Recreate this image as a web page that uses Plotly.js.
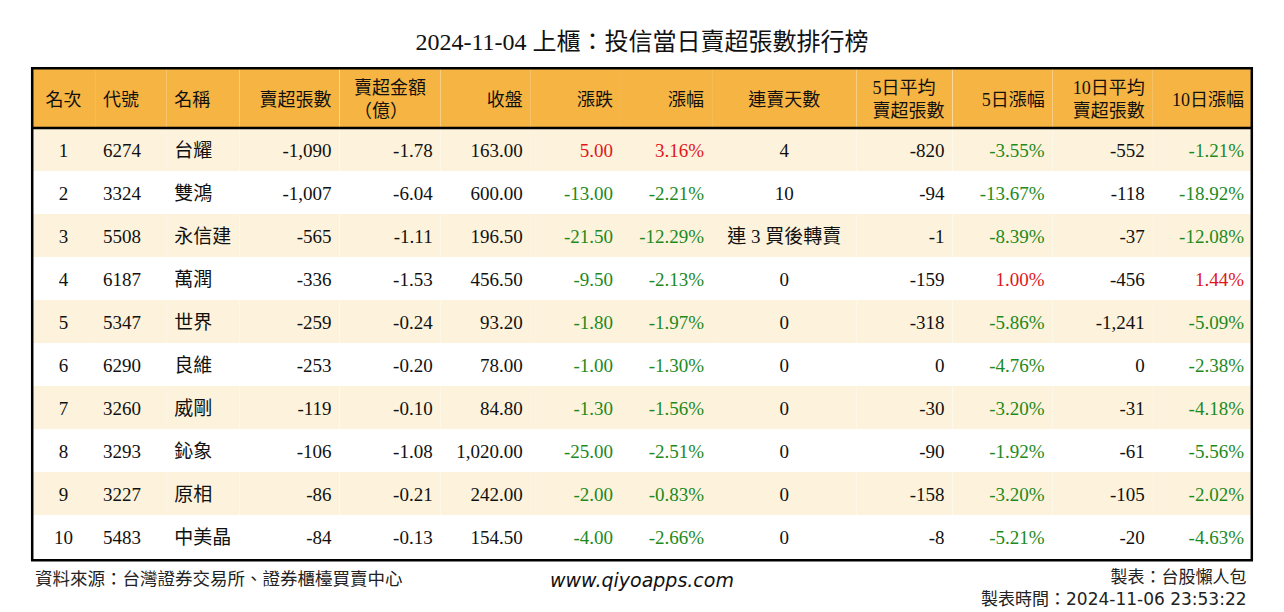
<!DOCTYPE html>
<html>
<head>
<meta charset="utf-8">
<script src="https://cdn.plot.ly/plotly-3.0.1.min.js"></script>
<style>
  html, body { margin: 0; padding: 0; background: #fff; }
  #chart { width: 1284px; height: 612px; }
</style>
</head>
<body>
<div id="chart"></div>
<script>
/* 2024-11-04 上櫃 投信當日賣超張數排行榜 */

const headers = ['名次', '代號', '名稱', '賣超張數', '賣超金額<br>（億）', '收盤', '漲跌', '漲幅',
  '連賣天數', '5日平均<br>賣超張數', '5日漲幅', '10日平均<br>賣超張數', '10日漲幅'];

const ranks = [1, 2, 3, 4, 5, 6, 7, 8, 9, 10];
const codes = ['6274', '3324', '5508', '6187', '5347', '6290', '3260', '3293', '3227', '5483'];
const names = ['台耀', '雙鴻', '永信建', '萬潤', '世界', '良維', '威剛', '鈊象', '原相', '中美晶'];
const sellVol = [-1090, -1007, -565, -336, -259, -253, -119, -106, -86, -84];
const sellAmt = [-1.78, -6.04, -1.11, -1.53, -0.24, -0.20, -0.10, -1.08, -0.21, -0.13];
const closes = [163.00, 600.00, 196.50, 456.50, 93.20, 78.00, 84.80, 1020.00, 242.00, 154.50];
const changes = [5.00, -13.00, -21.50, -9.50, -1.80, -1.00, -1.30, -25.00, -2.00, -4.00];
const pcts = [3.16, -2.21, -12.29, -2.13, -1.97, -1.30, -1.56, -2.51, -0.83, -2.66];
const sellDays = ['4', '10', '連 3 買後轉賣', '0', '0', '0', '0', '0', '0', '0'];
const avg5 = [-820, -94, -1, -159, -318, 0, -30, -90, -158, -8];
const pct5 = [-3.55, -13.67, -8.39, 1.00, -5.86, -4.76, -3.20, -1.92, -3.20, -5.21];
const avg10 = [-552, -118, -37, -456, -1241, 0, -31, -61, -105, -20];
const pct10 = [-1.21, -18.92, -12.08, 1.44, -5.09, -2.38, -4.18, -5.56, -2.02, -4.63];

const COLORS = {
  header: '#F6B443',
  band: '#FDF3DC',
  white: '#FFFFFF',
  text: '#111111',
  up: '#E0161B',
  down: '#1D8A1D',
};

const W = 1284, H = 612;
const FONT = '"Liberation Serif", "Times New Roman", "Noto Sans CJK TC", serif';
const CJK = '"Noto Sans CJK TC", "Noto Sans CJK SC", sans-serif';

const fmtInt = v => v.toLocaleString('en-US');
const fmt2 = v => v.toLocaleString('en-US', { minimumFractionDigits: 2, maximumFractionDigits: 2 });
const fmtPct = v => fmt2(v) + '%';
const signColor = v => v > 0 ? COLORS.up : (v < 0 ? COLORS.down : COLORS.text);
const plain = arr => arr.map(() => COLORS.text);

const columns = [
  ranks.map(String),
  codes,
  names,
  sellVol.map(fmtInt),
  sellAmt.map(fmt2),
  closes.map(fmt2),
  changes.map(fmt2),
  pcts.map(fmtPct),
  sellDays,
  avg5.map(fmtInt),
  pct5.map(fmtPct),
  avg10.map(fmtInt),
  pct10.map(fmtPct),
];

const fontColors = [
  plain(ranks), plain(ranks), plain(ranks), plain(ranks), plain(ranks), plain(ranks),
  changes.map(signColor), pcts.map(signColor),
  plain(ranks), plain(ranks), pct5.map(signColor), plain(ranks), pct10.map(signColor),
];

const rowFill = ranks.map((r, i) => i % 2 === 0 ? COLORS.band : COLORS.white);

const px = v => v / W;
const py = v => 1 - v / H;

const table = {
  type: 'table',
  domain: { x: [px(32), px(1252)], y: [py(561), py(69)] },
  columnwidth: [63, 71, 73, 100, 101, 90, 90, 91, 144, 96, 100, 100, 99],
  header: {
    values: headers,
    align: ['center', 'left', 'left', 'right', 'center', 'right', 'right', 'right',
      'center', 'right', 'right', 'right', 'right'],
    fill: { color: COLORS.header },
    line: { width: 0, color: COLORS.header },
    font: { family: FONT, size: 18, color: COLORS.text },
    height: 59,
  },
  cells: {
    values: columns,
    align: ['center', 'left', 'left', 'right', 'right', 'right', 'right', 'right',
      'center', 'right', 'right', 'right', 'right'],
    fill: { color: [rowFill] },
    line: { width: 0, color: COLORS.white },
    font: { family: FONT, size: 19, color: fontColors },
    height: 43,
  },
};

const layout = {
  width: W,
  height: H,
  margin: { t: 0, r: 0, b: 0, l: 0 },
  paper_bgcolor: '#fff',
  title: {
    text: '2024-11-04 上櫃：投信當日賣超張數排行榜',
    font: { family: FONT, size: 24, color: COLORS.text },
    x: 0.5, xanchor: 'center',
    y: py(42), yanchor: 'middle',
  },
  shapes: [
    { type: 'rect', xref: 'paper', yref: 'paper', x0: px(32.2), x1: px(1251.8), y0: py(560.2), y1: py(68.2),
      line: { color: '#000', width: 2.5 }, layer: 'above' },
    { type: 'line', xref: 'paper', yref: 'paper', x0: px(32), x1: px(1252), y0: py(128), y1: py(128),
      line: { color: '#000', width: 2.5 }, layer: 'above' },
  ],
  annotations: [
    { text: '資料來源：台灣證券交易所、證券櫃檯買賣中心', xref: 'paper', yref: 'paper',
      x: px(33), y: py(577), xanchor: 'left', yanchor: 'middle', showarrow: false,
      font: { family: CJK, size: 17.5, color: '#222' } },
    { text: '<i>www.qiyoapps.com</i>', xref: 'paper', yref: 'paper',
      x: px(642), y: py(580), xanchor: 'center', yanchor: 'middle', showarrow: false,
      font: { family: '"DejaVu Sans", Verdana, sans-serif', size: 19, color: '#111' } },
    { text: '製表：台股懶人包<br>製表時間：2024-11-06 23:53:22', xref: 'paper', yref: 'paper',
      x: px(1249), y: py(588), xanchor: 'right', yanchor: 'middle', align: 'right', showarrow: false,
      font: { family: '"DejaVu Sans", "Noto Sans CJK TC", sans-serif', size: 17, color: '#222' } },
  ],
};

// plotly tables put text at the top of each cell; centre it vertically like the source image
function centerCellText(gd) {
  gd.querySelectorAll('.column-cell').forEach(cell => {
    const rect = cell.querySelector('.cell-rect');
    const holder = cell.querySelector('.cell-text-holder');
    if (!rect || !holder) return;
    const r = rect.getBoundingClientRect();
    const t = holder.getBoundingClientRect();
    if (!t.height || !r.height) return;
    const dy = (r.top + r.height / 2) - (t.top + t.height / 2) + 1;
    holder.setAttribute('transform', 'translate(0,' + dy.toFixed(1) + ') ' + (holder.getAttribute('transform') || ''));
  });
}

Plotly.newPlot('chart', [table], layout, { displayModeBar: false, staticPlot: true })
  .then(gd => { if (document.fonts) document.fonts.ready.then(() => centerCellText(gd)); else centerCellText(gd); });
</script>
</body>
</html>
